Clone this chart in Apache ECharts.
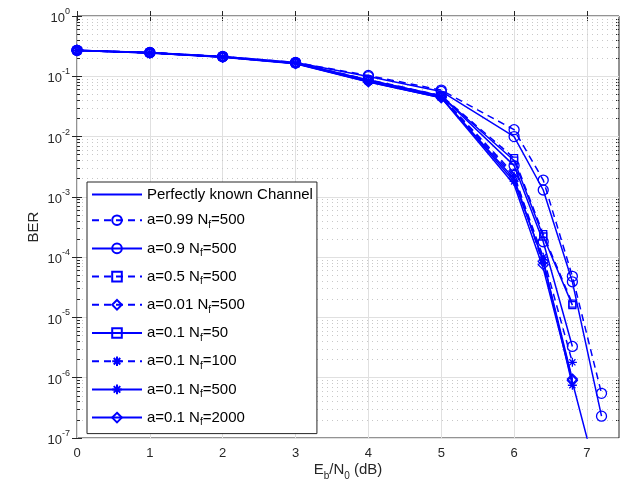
<!DOCTYPE html>
<html><head><meta charset="utf-8">
<script src="https://cdn.jsdelivr.net/npm/echarts@6/dist/echarts.min.js"></script>
<style>html,body{margin:0;padding:0;background:#fff}#c{width:635px;height:500px}</style>
</head><body><div id="c"></div>
<script>
const X = [0, 1, 2, 3, 4, 5, 6, 6.4, 6.8, 7.2];
const perfect   = [0.268, 0.244, 0.207, 0.162, 0.080, 0.044, 1.6e-3, 6.5e-5, 8.5e-7, 1.2e-8];
const a099_500  = [0.270, 0.248, 0.213, 0.170, 0.103, 0.059, 1.3e-2, 1.9e-3, 4.8e-5, 5.5e-7];
const a09_500   = [0.270, 0.247, 0.212, 0.169, 0.099, 0.056, 1.0e-2, 1.3e-3, 3.9e-5, 2.3e-7];
const a05_500   = [0.270, 0.246, 0.210, 0.166, 0.088, 0.048, 4.4e-3, 2.4e-4, 1.7e-5];
const a001_500  = [0.268, 0.245, 0.209, 0.165, 0.084, 0.046, 2.4e-3, 7.5e-5, 9.0e-7];
const a01_50    = [0.270, 0.246, 0.210, 0.166, 0.087, 0.047, 4.0e-3, 2.2e-4, 1.6e-5];
const a01_100   = [0.268, 0.245, 0.209, 0.164, 0.083, 0.045, 2.2e-3, 1.0e-4, 1.8e-6];
const a01_500   = [0.268, 0.245, 0.208, 0.164, 0.082, 0.045, 1.8e-3, 9.0e-5, 7.5e-7];
const a01_2000  = [0.268, 0.244, 0.208, 0.163, 0.081, 0.044, 2.0e-3, 8.5e-5, 9.5e-7];
const extraCirc = [0.270, 0.246, 0.210, 0.166, 0.086, 0.047, 3.3e-3, 1.8e-4, 3.3e-6];
const legendNames = ['Perfectly known Channel', 'a=0.99 N_f=500', 'a=0.9 N_f=500', 'a=0.5 N_f=500',
  'a=0.01 N_f=500', 'a=0.1 N_f=50', 'a=0.1 N_f=100', 'a=0.1 N_f=500', 'a=0.1 N_f=2000'];
const xTicks = [0, 1, 2, 3, 4, 5, 6, 7];

const BLUE = '#0000ff';
const STAR = 'path://M5,0L5,10M0,5L10,5M1.6,1.6L8.4,8.4M1.6,8.4L8.4,1.6';
function pts(arr) { return arr.map((v, i) => [X[i], v]); }
function mk(name, arr, dashed, symbol, size) {
  return {
    name: name, type: 'line', data: pts(arr),
    symbol: symbol || 'none', symbolSize: size || 10, showSymbol: !!symbol,
    lineStyle: { color: BLUE, width: 1.5, type: dashed ? [7, 5] : 'solid' },
    itemStyle: { color: 'none', borderColor: BLUE, borderWidth: 1.3 },
    emphasis: { disabled: true }, animation: false, z: 3
  };
}
// minor decade positions (2..9 x 10^e), expressed in log10 units for a linear helper axis
const minorLog = [];
for (let e = -7; e < 0; e++) for (let m = 2; m <= 9; m++) minorLog.push(e + Math.log10(m));

const series = [
  mk(legendNames[0], perfect, false, null),
  mk(legendNames[1], a099_500, true, 'circle', 10),
  mk(legendNames[2], a09_500, false, 'circle', 10),
  mk(legendNames[3], a05_500, true, 'rect', 7),
  mk(legendNames[4], a001_500, true, 'diamond', 10),
  mk(legendNames[5], a01_50, false, 'rect', 7),
  mk(legendNames[6], a01_100, true, STAR, 9),
  mk(legendNames[7], a01_500, false, STAR, 9),
  mk(legendNames[8], a01_2000, false, 'diamond', 10),
  mk('extra', extraCirc, false, 'circle', 10)
];

const txt = '#262626';
const FONT = 'Liberation Sans, Arial, Helvetica, sans-serif';
const yLab = v => { const e = Math.round(Math.log10(v)); return '{b|10}{s|' + e + '}'; };
const yRich = { b: { fontSize: 13, color: txt, fontFamily: FONT, lineHeight: 18, verticalAlign: 'bottom' },
                s: { fontSize: 9, color: txt, fontFamily: FONT, lineHeight: 18, verticalAlign: 'top' } };

const legendData = legendNames.map((n, i) => i === 0
  ? { name: n, itemStyle: { color: 'transparent', borderColor: 'transparent', borderWidth: 0 } }
  : { name: n });

const option = {
  animation: false,
  backgroundColor: '#fff',
  textStyle: { fontFamily: FONT },
  grid: { left: 77, right: 16, top: 16, bottom: 62, show: true, borderColor: txt, borderWidth: 1 },
  legend: {
    data: legendData, orient: 'vertical', left: 87, top: 182,
    itemWidth: 50, itemHeight: 12, itemGap: 7.2, padding: [5, 4, 6, 4],
    backgroundColor: '#fff', borderColor: txt, borderWidth: 1,
    selectedMode: false,
    formatter: n => '{t|' + n.replace('N_f', '}{t|N}{u|f}{t|') + '}',
    textStyle: {
      fontFamily: FONT, fontSize: 15, color: '#000', padding: [0, 0, 0, 0],
      rich: { t: { fontSize: 15, fontFamily: FONT, color: '#000', lineHeight: 20, verticalAlign: 'middle' },
              u: { fontSize: 10, fontFamily: FONT, color: '#000', lineHeight: 20, verticalAlign: 'bottom', padding: [11, 0, 0, 0] } }
    }
  },
  xAxis: [{
    type: 'value', min: 0, max: 7.44, interval: 1,
    name: '{t|E}{u|b}{t|/N}{u|0}{t| (dB)}', nameLocation: 'middle', nameGap: 21, nameMoveOverlap: false,
    nameTextStyle: { rich: { t: { fontSize: 15, fontFamily: FONT, color: txt, lineHeight: 22, verticalAlign: 'middle' },
                             u: { fontSize: 10, fontFamily: FONT, color: txt, lineHeight: 22, verticalAlign: 'bottom', padding: [12, 0, 0, 0] } } },
    axisLine: { show: false },
    axisTick: { inside: true, length: 5, lineStyle: { color: txt }, customValues: xTicks },
    axisLabel: { color: txt, fontSize: 13, margin: 9, fontFamily: FONT, customValues: xTicks },
    splitLine: { show: true, lineStyle: { color: '#e0e0e0', width: 1 } }
  }, {
    type: 'value', min: 0, max: 7.44, interval: 1, position: 'top',
    axisLine: { show: false }, axisLabel: { show: false },
    axisTick: { inside: true, length: 5, lineStyle: { color: txt }, customValues: xTicks },
    splitLine: { show: false }
  }],
  yAxis: [{
    type: 'log', logBase: 10, min: 1e-7, max: 1, interval: 1,
    name: 'BER', nameLocation: 'middle', nameGap: 36, nameMoveOverlap: false,
    nameTextStyle: { fontSize: 15, color: txt, fontFamily: FONT },
    axisLine: { show: false },
    axisTick: { inside: true, length: 5, lineStyle: { color: txt } },
    axisLabel: { formatter: yLab, rich: yRich, margin: 7 },
    splitLine: { show: true, lineStyle: { color: '#e0e0e0', width: 1 } },
    z: 2
  }, {
    type: 'log', logBase: 10, min: 1e-7, max: 1, interval: 1, position: 'right',
    axisLine: { show: false }, axisLabel: { show: false },
    axisTick: { inside: true, length: 5, lineStyle: { color: txt } },
    splitLine: { show: false }
  }, {
    type: 'value', min: -7, max: 0, position: 'left',
    axisLine: { show: false }, axisLabel: { show: false },
    axisTick: { inside: true, length: 3, lineStyle: { color: txt }, customValues: minorLog },
    splitLine: { show: true, lineStyle: { color: '#c8c8c8', width: 1, type: [1, 4] } },
    z: 1
  }, {
    type: 'value', min: -7, max: 0, position: 'right',
    axisLine: { show: false }, axisLabel: { show: false },
    axisTick: { inside: true, length: 3, lineStyle: { color: txt }, customValues: minorLog },
    splitLine: { show: false }
  }],
  series: series
};
const chart = echarts.init(document.getElementById('c'), null, { renderer: 'canvas' });
chart.setOption(option);
</script></body></html>
